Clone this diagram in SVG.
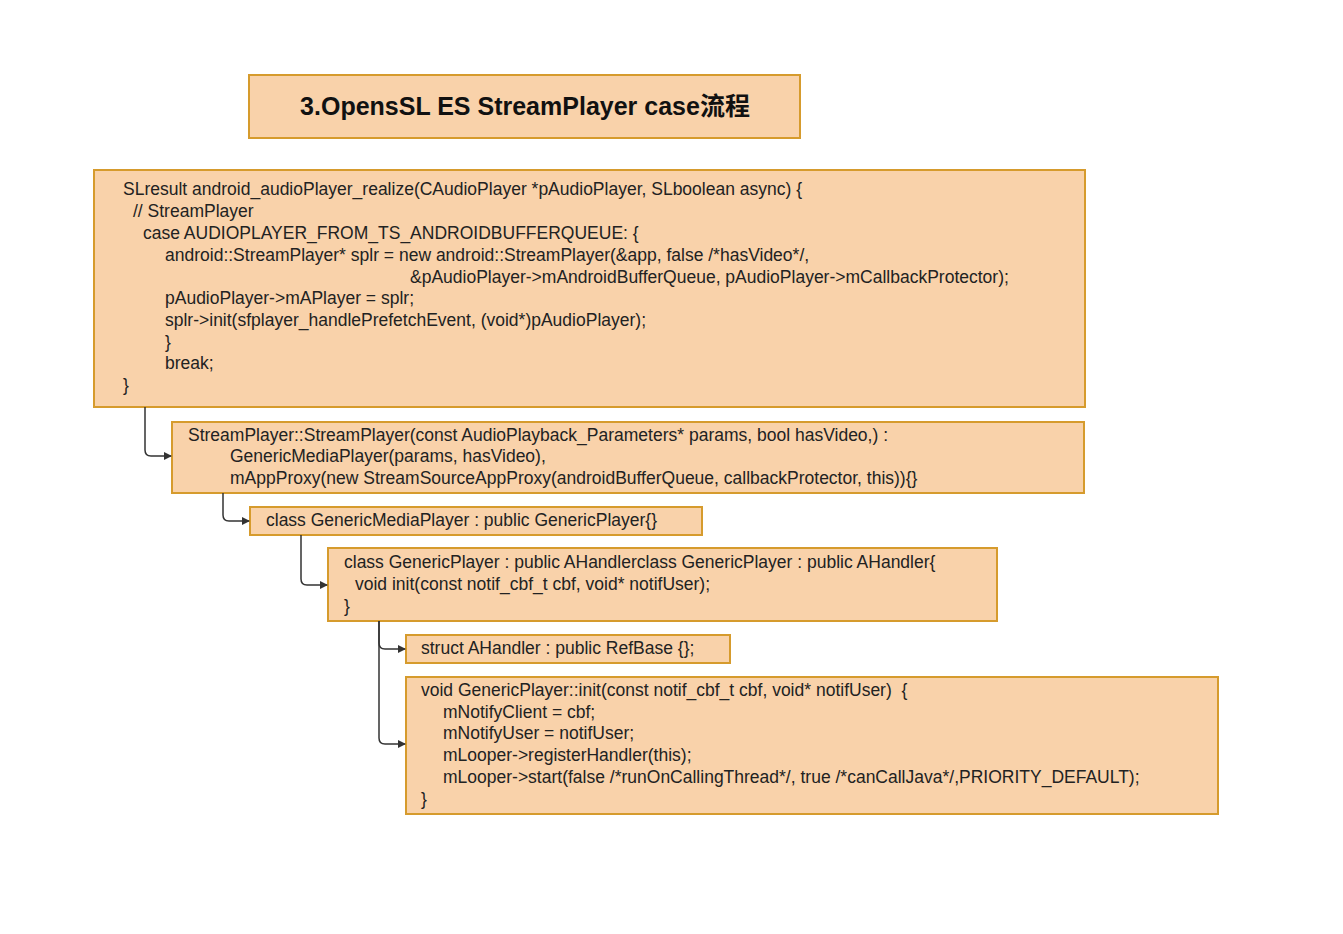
<svg xmlns="http://www.w3.org/2000/svg" width="1343" height="934" viewBox="0 0 1343 934">
<style>
.b{fill:#f9d2aa;stroke:#d69b2d;stroke-width:2}
.t{font-family:"Liberation Sans",Arial,sans-serif;font-size:17.5px;fill:#222;dominant-baseline:middle;white-space:pre}
.c{fill:none;stroke:#333;stroke-width:1.5}
</style>
<defs><marker id="a" markerWidth="8" markerHeight="8" refX="7" refY="4" orient="auto" markerUnits="userSpaceOnUse"><path d="M0,0L8,4L0,8z" fill="#333"/></marker></defs>
<rect width="1343" height="934" fill="#fff"/>
<g id="title"><rect class="b" x="249" y="75" width="551" height="63"/><text x="525" y="108" text-anchor="middle" style="font-family:'Liberation Sans','Noto Sans CJK SC',sans-serif;font-size:25px;font-weight:bold;fill:#111;dominant-baseline:middle">3.OpensSL ES StreamPlayer case流程</text></g>
<g id="n1"><rect class="b" x="94" y="170" width="991" height="237"/>
<text class="t" x="123" y="190">SLresult android_audioPlayer_realize(CAudioPlayer *pAudioPlayer, SLboolean async) {</text>
<text class="t" x="133" y="212">// StreamPlayer</text>
<text class="t" x="143" y="234">case AUDIOPLAYER_FROM_TS_ANDROIDBUFFERQUEUE: {</text>
<text class="t" x="165" y="256">android::StreamPlayer* splr = new android::StreamPlayer(&amp;app, false /*hasVideo*/,</text>
<text class="t" x="410" y="278">&amp;pAudioPlayer-&gt;mAndroidBufferQueue, pAudioPlayer-&gt;mCallbackProtector);</text>
<text class="t" x="165" y="299">pAudioPlayer-&gt;mAPlayer = splr;</text>
<text class="t" x="165" y="321">splr-&gt;init(sfplayer_handlePrefetchEvent, (void*)pAudioPlayer);</text>
<text class="t" x="165" y="343">}</text>
<text class="t" x="165" y="364">break;</text>
<text class="t" x="123" y="386">}</text></g>
<g id="n2"><rect class="b" x="172" y="422" width="912" height="71"/>
<text class="t" x="188" y="436">StreamPlayer::StreamPlayer(const AudioPlayback_Parameters* params, bool hasVideo,) :</text>
<text class="t" x="230" y="457">GenericMediaPlayer(params, hasVideo),</text>
<text class="t" x="230" y="479">mAppProxy(new StreamSourceAppProxy(androidBufferQueue, callbackProtector, this)){}</text></g>
<g id="n3"><rect class="b" x="250" y="507" width="452" height="28"/>
<text class="t" x="266" y="521">class GenericMediaPlayer : public GenericPlayer{}</text></g>
<g id="n4"><rect class="b" x="328" y="548" width="669" height="73"/>
<text class="t" x="344" y="563">class GenericPlayer : public AHandlerclass GenericPlayer : public AHandler{</text>
<text class="t" x="355" y="585">void init(const notif_cbf_t cbf, void* notifUser);</text>
<text class="t" x="344" y="607">}</text></g>
<g id="n5"><rect class="b" x="406" y="635" width="324" height="28"/>
<text class="t" x="421" y="649">struct AHandler : public RefBase {};</text></g>
<g id="n6"><rect class="b" x="406" y="677" width="812" height="137"/>
<text class="t" x="421" y="691">void GenericPlayer::init(const notif_cbf_t cbf, void* notifUser)  {</text>
<text class="t" x="443" y="713">mNotifyClient = cbf;</text>
<text class="t" x="443" y="734">mNotifyUser = notifUser;</text>
<text class="t" x="443" y="756">mLooper-&gt;registerHandler(this);</text>
<text class="t" x="443" y="778">mLooper-&gt;start(false /*runOnCallingThread*/, true /*canCallJava*/,PRIORITY_DEFAULT);</text>
<text class="t" x="421" y="800">}</text></g>
<g id="connectors">
<path class="c" d="M145,407V450Q145,456 151,456H171" marker-end="url(#a)"/>
<path class="c" d="M223,493V515Q223,521 229,521H249" marker-end="url(#a)"/>
<path class="c" d="M301,535V579Q301,585 307,585H327" marker-end="url(#a)"/>
<path class="c" d="M379,621V643Q379,649 385,649H405" marker-end="url(#a)"/>
<path class="c" d="M379,621V738Q379,744 385,744H405" marker-end="url(#a)"/>
</g>
</svg>
